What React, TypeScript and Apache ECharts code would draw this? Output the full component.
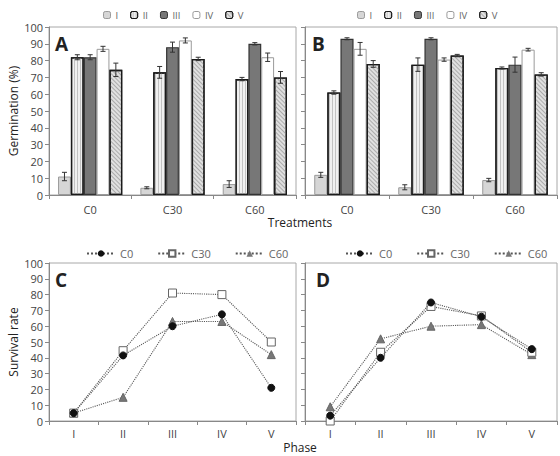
import React, { useEffect, useRef } from "react";
import * as echarts from "echarts";

const barCats = ["C0", "C30", "C60"];
const barNames = ["I", "II", "III", "IV", "V"];
// Panel A values and errors
const aI = [11, 4.3, 6.5];
const aII = [82, 73, 69];
const aIII = [82, 88, 90];
const aIV = [87, 92, 82];
const aV = [74.5, 81, 70];
const aIErr = [2.5, 0.6, 2];
const aIIErr = [1.5, 3.5, 1];
const aIIIErr = [1.5, 3, 0.7];
const aIVErr = [1.5, 1.5, 2.5];
const aVErr = [4, 1, 3.5];
// Panel B values and errors
const bI = [12, 4.6, 8.9];
const bII = [61, 77.6, 75.6];
const bIII = [93, 93, 77.6];
const bIV = [87, 80.6, 86.5];
const bV = [78, 83, 71.8];
const bIErr = [1.5, 1.5, 1];
const bIIErr = [1, 4, 0.6];
const bIIIErr = [0.6, 0.6, 4.5];
const bIVErr = [3.8, 1, 0.8];
const bVErr = [2, 0.7, 1];

const phases = ["I", "II", "III", "IV", "V"];
const lineNames = ["C0", "C30", "C60"];
const cC0 = [5, 41.5, 60, 67.5, 21];
const cC30 = [5, 44.5, 81, 80, 50];
const cC60 = [5, 15, 63, 63, 42];
const dC0 = [3.4, 40, 75, 66, 45.5];
const dC30 = [0, 43.5, 72.5, 66.5, 43.5];
const dC60 = [9, 52, 60, 61, 42];

const yTicks = { min: 0, max: 100, interval: 10 };
const FONT = "Open Sans";

const CAT_GAP = 0.22;

const barStyles: any[] = [
  { color: "#d6d6d6", borderColor: "#9a9a9a", borderWidth: 1 },
  {
    color: "#f0f0f0",
    borderColor: "#1a1a1a",
    borderWidth: 1.3,
    decal: { symbol: "rect", symbolSize: 1, dashArrayX: [1, 0], dashArrayY: [1, 2], rotation: Math.PI / 2, color: "#c2c2c2" },
  },
  { color: "#777777", borderColor: "#333333", borderWidth: 1.2 },
  { color: "#ffffff", borderColor: "#9a9a9a", borderWidth: 1 },
  {
    color: "#e0e0e0",
    borderColor: "#1a1a1a",
    borderWidth: 1.3,
    decal: { symbol: "rect", symbolSize: 1, dashArrayX: [1, 0], dashArrayY: [1, 1.5], rotation: Math.PI / 4, color: "#ababab" },
  },
];

function errData(vals: number[][], errs: number[][]) {
  const out: number[][] = [];
  vals.forEach((v, s) => {
    v.forEach((val, c) => {
      out.push([c, s, val - errs[s][c], val + errs[s][c]]);
    });
  });
  return out;
}

function renderErr(params: any, api: any) {
  const c = api.value(0);
  const s = api.value(1);
  const lo = api.value(2);
  const hi = api.value(3);
  const p1 = api.coord([c, lo]);
  const p2 = api.coord([c, hi]);
  const band = api.size([1, 0])[0];
  const total = band * (1 - CAT_GAP);
  const bw = total / 5;
  const x = p1[0] - total / 2 + (s + 0.5) * bw;
  const cap = 2.5;
  const st = { stroke: "#333", lineWidth: 1 };
  return {
    type: "group",
    children: [
      { type: "line", shape: { x1: x, y1: p1[1], x2: x, y2: p2[1] }, style: st },
      { type: "line", shape: { x1: x - cap, y1: p1[1], x2: x + cap, y2: p1[1] }, style: st },
      { type: "line", shape: { x1: x - cap, y1: p2[1], x2: x + cap, y2: p2[1] }, style: st },
    ],
  };
}

export default function App() {
  const ref = useRef<HTMLDivElement>(null);
  useEffect(() => {
    document.body.style.margin = "0";
    const chart = echarts.init(ref.current!, null, { renderer: "svg" });
    const grids = [
      { left: 49, top: 27, width: 247, height: 168 },
      { left: 305, top: 27, width: 252, height: 168 },
      { left: 49, top: 263, width: 247, height: 158 },
      { left: 305, top: 263, width: 252, height: 158 },
    ].map((g) => ({ ...g, show: true, borderColor: "#a8a8a8", borderWidth: 1, backgroundColor: "transparent" }));

    const axisLine = { show: true, lineStyle: { color: "#888", width: 1 } };
    const labelStyle = { color: "#444", fontSize: 11, fontFamily: FONT };

    const xAxes = grids.map((_, i) => ({
      type: "category",
      gridIndex: i,
      data: i < 2 ? barCats : phases,
      boundaryGap: true,
      axisLine,
      axisTick: { show: true, length: 4, lineStyle: { color: "#888" } },
      axisLabel: { ...labelStyle, margin: i < 2 ? 9 : 7 },
    }));
    const yAxes = grids.map((_, i) => ({
      type: "value",
      gridIndex: i,
      ...yTicks,
      axisLine,
      axisTick: { show: true, length: 4, lineStyle: { color: "#888" } },
      splitLine: { show: false },
      axisLabel: { ...labelStyle, show: i % 2 === 0, margin: 6 },
    }));

    const series: any[] = [];
    const aVals = [aI, aII, aIII, aIV, aV];
    const aErrs = [aIErr, aIIErr, aIIIErr, aIVErr, aVErr];
    const bVals = [bI, bII, bIII, bIV, bV];
    const bErrs = [bIErr, bIIErr, bIIIErr, bIVErr, bVErr];
    [aVals, bVals].forEach((vals, g) => {
      vals.forEach((v, s) => {
        series.push({
          type: "bar",
          name: barNames[s],
          xAxisIndex: g,
          yAxisIndex: g,
          data: v,
          barGap: "0%",
          barCategoryGap: CAT_GAP * 100 + "%",
          itemStyle: barStyles[s],
        });
      });
    });
    [aErrs, bErrs].forEach((errs, g) => {
      series.push({
        type: "custom",
        name: "err" + g,
        xAxisIndex: g,
        yAxisIndex: g,
        renderItem: renderErr,
        data: errData(g === 0 ? aVals : bVals, errs),
        encode: { x: 0, y: [2, 3] },
        z: 10,
      });
    });
    const lineStyles: any[] = [
      { symbol: "circle", symbolSize: 7, itemStyle: { color: "#111", borderColor: "#111" } },
      { symbol: "rect", symbolSize: 8, itemStyle: { color: "#fff", borderColor: "#666", borderWidth: 1 } },
      { symbol: "triangle", symbolSize: 8, itemStyle: { color: "#777", borderColor: "#666" } },
    ];
    [[cC0, cC30, cC60], [dC0, dC30, dC60]].forEach((vals, g) => {
      vals.forEach((v, s) => {
        series.push({
          type: "line",
          name: lineNames[s],
          xAxisIndex: g + 2,
          yAxisIndex: g + 2,
          data: v,
          ...lineStyles[s],
          lineStyle: { type: "dotted", color: "#555", width: 1.1 },
          z: 5 - s,
        });
      });
    });

    const legendText = { color: "#666", fontFamily: FONT };
    const barLegend = (left: number) => ({
      left,
      top: 10,
      padding: 0,
      data: barNames.map((n) => ({ name: n, textStyle: { ...legendText, fontSize: 9.5 } })),
      itemWidth: 7,
      itemHeight: 7,
      itemGap: 12,
      selectedMode: false,
      itemStyle: { borderWidth: 1 },
      textStyle: { ...legendText, fontSize: 9.5 },
    });
    const lineLegend = (left: number) => ({
      left,
      top: 248,
      padding: 0,
      width: 230,
      data: lineNames.map((n) => ({ name: n, textStyle: { ...legendText, fontSize: 11 } })),
      itemWidth: 28,
      itemHeight: 8,
      itemGap: 24,
      selectedMode: false,
      textStyle: { ...legendText, fontSize: 11 },
    });

    const letter = (t: string, x: number, y: number) => ({
      type: "text",
      x,
      y,
      style: { text: t, fontSize: 19, fontWeight: "bold", fontFamily: FONT, fill: "#222" },
      z: 20,
    });
    const title = (t: string, x: number, y: number, rot = 0) => ({
      type: "text",
      x,
      y,
      rotation: rot,
      style: { text: t, fontSize: 12, fontFamily: FONT, fill: "#222", textAlign: "center", textVerticalAlign: "middle" },
    });

    chart.setOption({
      animation: false,
      backgroundColor: "#fff",
      grid: grids,
      xAxis: xAxes,
      yAxis: yAxes,
      legend: [barLegend(103), barLegend(357), lineLegend(86), lineLegend(345)],
      series,
      graphic: [
        letter("A", 55, 34),
        letter("B", 312, 34),
        letter("C", 55, 270),
        letter("D", 316, 270),
        title("Treatments", 300, 222),
        title("Phase", 300, 447),
        title("Germination (%)", 13, 111, Math.PI / 2),
        title("Survival rate", 13, 342, Math.PI / 2),
      ],
    });
    return () => chart.dispose();
  }, []);
  return <div ref={ref} style={{ position: "absolute", left: 0, top: 0, width: 560, height: 456 }} />;
}
